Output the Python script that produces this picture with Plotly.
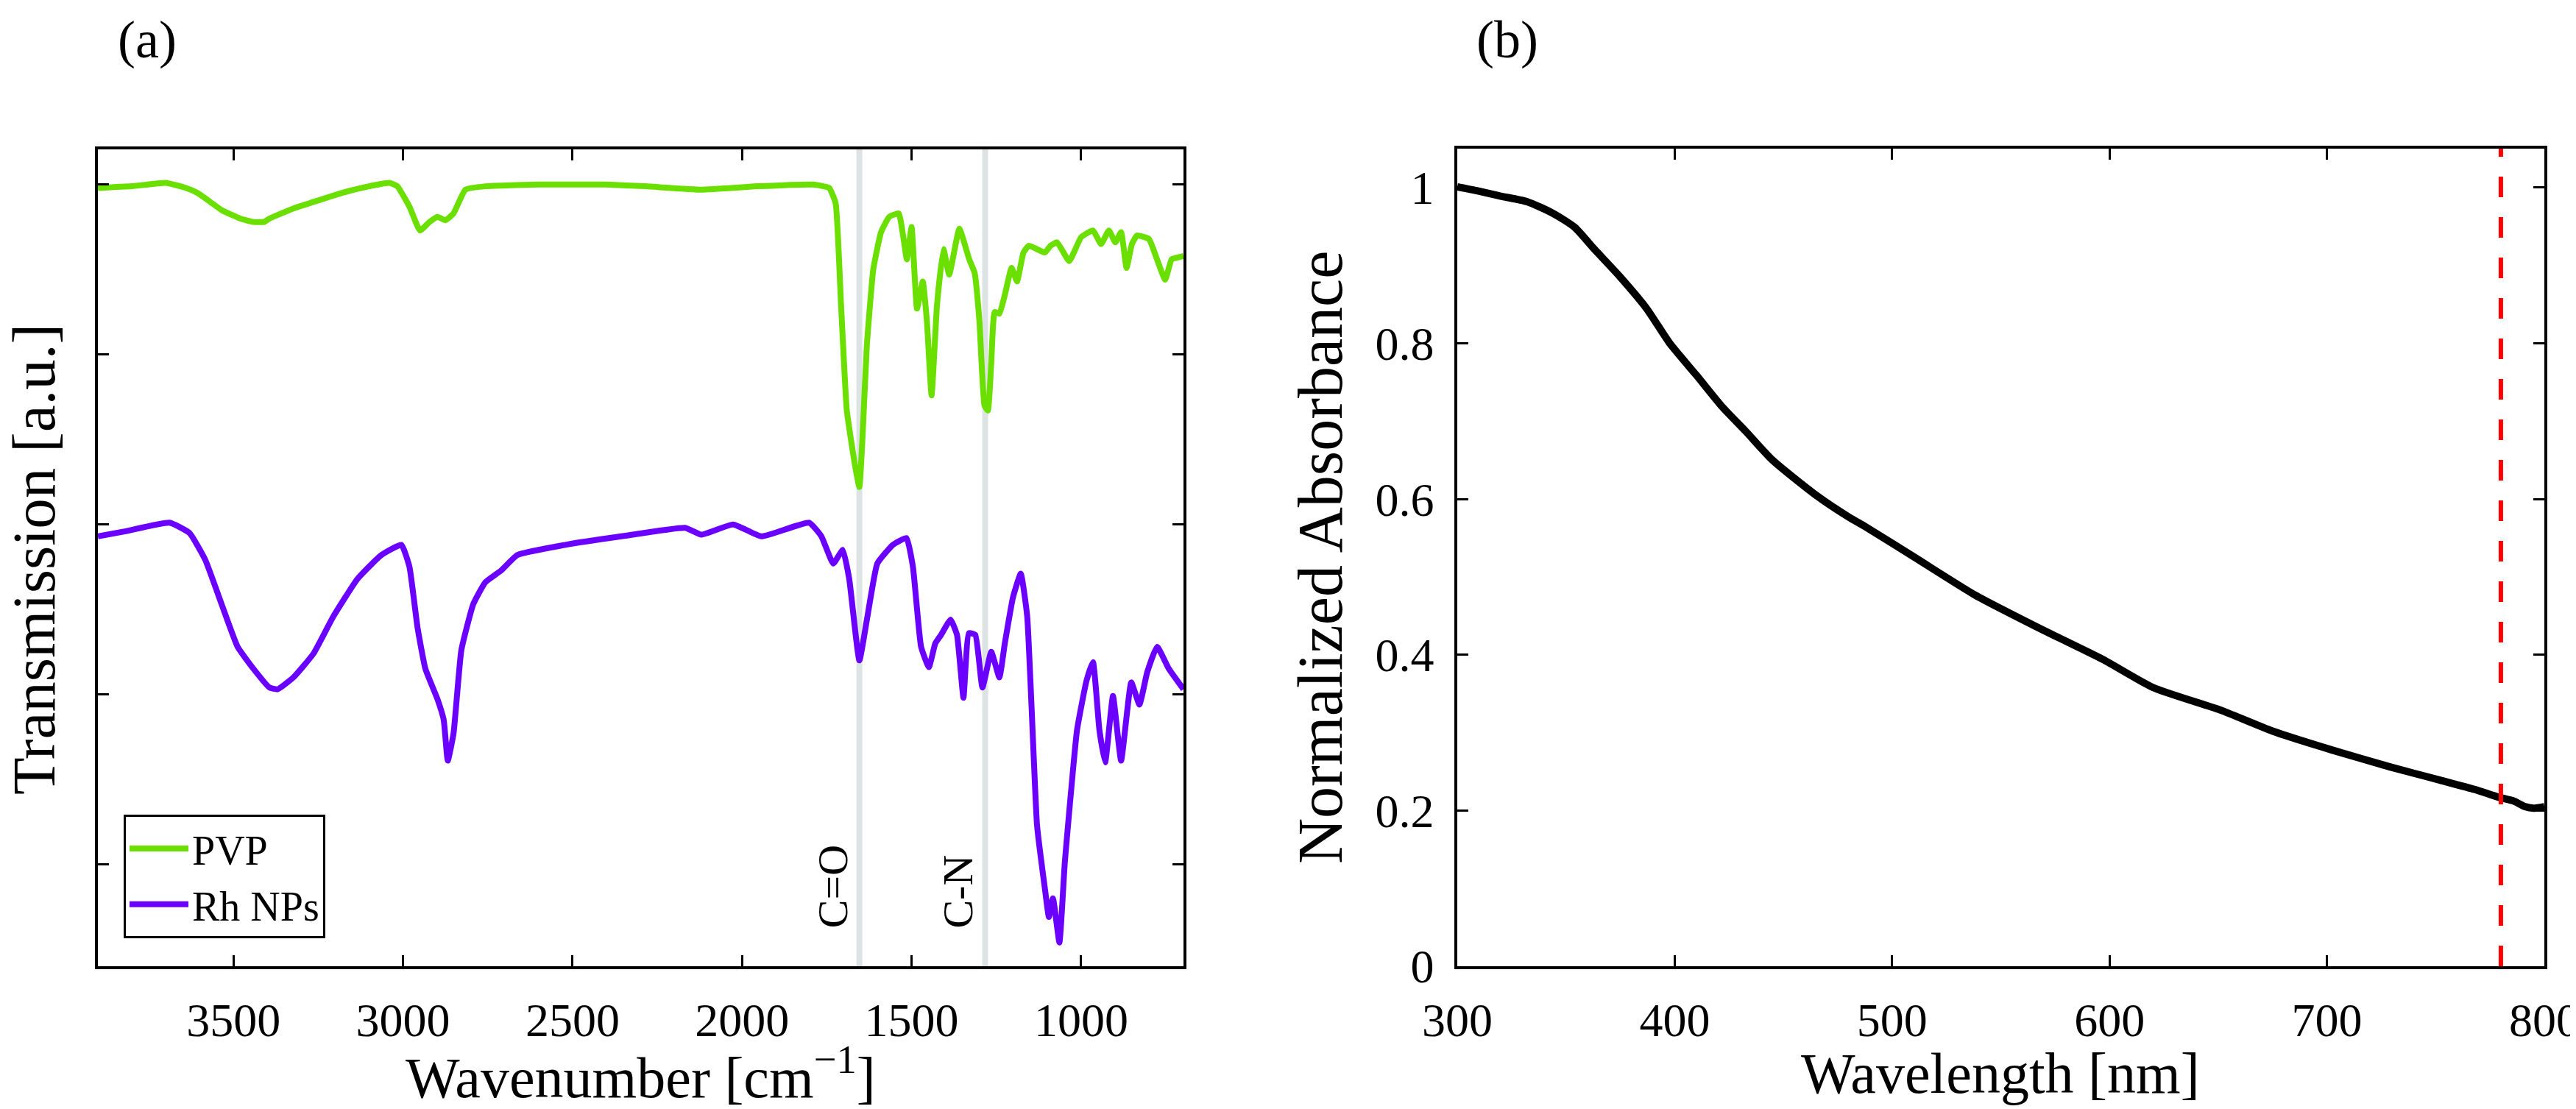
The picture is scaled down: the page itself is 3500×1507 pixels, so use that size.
import plotly.graph_objects as go

W, H = 3500, 1507
# plot-area frame (pixels) shared by both panels
ML, MR, MT, MB = 125, 51, 194, 202
PW, PH = W - ML - MR, H - MT - MB

# ---------------- Panel (a): FTIR ----------------
pvp_wn = [3900, 3800, 3700, 3640, 3606, 3570, 3535, 3480, 3441, 3410, 3394, 3323, 3276, 3182, 3100,
          3040, 3017, 2981, 2950, 2922, 2898, 2875, 2851, 2816, 2757, 2600, 2521, 2400, 2285, 2120,
          1955, 1790, 1743, 1724, 1708, 1691, 1667, 1654, 1645, 1632, 1613, 1590, 1566, 1538, 1525,
          1514, 1500, 1484, 1467, 1455, 1441, 1425, 1406, 1389, 1359, 1330, 1314, 1300, 1285, 1275,
          1265, 1255, 1241, 1225, 1205, 1189, 1170, 1154, 1130, 1107, 1090, 1071, 1035, 1000, 965,
          941, 918, 899, 882, 866, 850, 835, 800, 776, 752, 733, 717, 698]
pvp_t = [3.98, 3.99, 4.01, 3.98, 3.95, 3.90, 3.85, 3.80, 3.78, 3.78, 3.80, 3.86, 3.89, 3.95, 3.99,
         4.01, 3.99, 3.87, 3.73, 3.78, 3.81, 3.79, 3.83, 3.97, 3.99, 4.00, 4.00, 4.00, 3.99, 3.97,
         3.99, 4.00, 3.98, 3.89, 3.29, 2.67, 2.35, 2.22, 2.50, 3.05, 3.50, 3.72, 3.81, 3.83, 3.70,
         3.56, 3.75, 3.27, 3.43, 3.20, 2.76, 3.29, 3.62, 3.47, 3.74, 3.56, 3.48, 3.20, 2.70, 2.67,
         2.95, 3.25, 3.24, 3.35, 3.51, 3.43, 3.60, 3.64, 3.62, 3.60, 3.64, 3.66, 3.55, 3.69, 3.73,
         3.65, 3.73, 3.66, 3.72, 3.51, 3.65, 3.70, 3.68, 3.56, 3.44, 3.56, 3.57, 3.58]

rh_wn = [3900, 3818, 3689, 3630, 3583, 3535, 3488, 3441, 3394, 3370, 3323, 3264, 3205, 3134, 3064,
         3005, 2981, 2957, 2934, 2898, 2880, 2868, 2851, 2828, 2793, 2757, 2710, 2663, 2521, 2356,
         2168, 2120, 2026, 1943, 1802, 1766, 1731, 1703, 1684, 1654, 1630, 1601, 1555, 1515, 1496,
         1472, 1449, 1430, 1413, 1385, 1366, 1347, 1331, 1312, 1291, 1265, 1241, 1225, 1201, 1178,
         1159, 1130, 1107, 1095, 1083, 1064, 1048, 1012, 984, 965, 946, 929, 906, 882, 852,
         828, 805, 776, 741, 698]
rh_t = [1.93, 1.96, 2.01, 1.95, 1.79, 1.53, 1.28, 1.15, 1.04, 1.03, 1.10, 1.24, 1.46, 1.68, 1.82,
        1.88, 1.75, 1.39, 1.15, 0.97, 0.85, 0.61, 0.77, 1.26, 1.53, 1.66, 1.73, 1.82, 1.88, 1.93,
        1.98, 1.94, 2.00, 1.93, 2.01, 1.93, 1.77, 1.85, 1.68, 1.20, 1.46, 1.77, 1.88, 1.92, 1.75,
        1.28, 1.16, 1.30, 1.35, 1.44, 1.35, 0.98, 1.36, 1.35, 1.04, 1.25, 1.10, 1.30, 1.57, 1.71,
        1.46, 0.23, -0.14, -0.31, -0.20, -0.46, 0.01, 0.79, 1.08, 1.19, 0.79, 0.60, 0.99, 0.61, 1.07,
        0.94, 1.13, 1.28, 1.15, 1.03]

band_wn = [1654, 1283]
band_labels = ["C=O", "C-N"]
band_label_y = -0.386

ftir_xticks = [3500, 3000, 2500, 2000, 1500, 1000]
ftir_yticks = [0, 1, 2, 3, 4]

# ---------------- Panel (b): UV-Vis ----------------
wl_nm = [300, 309, 320, 332, 344, 354, 363, 375, 387, 398, 410, 422, 433, 445, 465, 480, 488, 511,
         538, 570, 597, 620, 651, 675, 702, 729, 752, 768, 779, 786, 791, 795, 800]
abs_norm = [1.001, 0.996, 0.989, 0.982, 0.967, 0.949, 0.921, 0.885, 0.845, 0.799, 0.759, 0.718,
            0.686, 0.650, 0.605, 0.577, 0.564, 0.524, 0.477, 0.431, 0.394, 0.358, 0.329, 0.302,
            0.278, 0.256, 0.239, 0.227, 0.217, 0.212, 0.205, 0.203, 0.205]
cutoff_nm = 780
uv_xticks = [300, 400, 500, 600, 700, 800]
uv_yticks = [0, 0.2, 0.4, 0.6, 0.8, 1]

GREEN = "#6adf00"
PURPLE = "#6a00ff"
GREY = "#dde3e3"
FONT = "Liberation Serif"


def px(x):
    return (x - ML) / PW


def py(y):
    return (H - MB - y) / PH


fig = go.Figure()
fig.add_trace(go.Scatter(x=pvp_wn, y=pvp_t, mode="lines", name="PVP",
                         line=dict(color=GREEN, width=8, shape="spline", smoothing=0.4),
                         xaxis="x", yaxis="y"))
fig.add_trace(go.Scatter(x=rh_wn, y=rh_t, mode="lines", name="Rh NPs",
                         line=dict(color=PURPLE, width=8, shape="spline", smoothing=0.4),
                         xaxis="x", yaxis="y"))
fig.add_trace(go.Scatter(x=wl_nm, y=abs_norm, mode="lines", showlegend=False,
                         line=dict(color="black", width=10, shape="spline", smoothing=0.6),
                         xaxis="x2", yaxis="y2"))

axis_common = dict(showline=True, linecolor="black", linewidth=3.5, mirror="ticks",
                   ticks="inside", ticklen=15, tickwidth=3, tickcolor="black",
                   showgrid=False, zeroline=False, automargin=False,
                   ticklabeloverflow="allow",
                   tickfont=dict(family=FONT, size=64, color="black"))

shapes = []
for wn in band_wn:
    shapes.append(dict(type="line", xref="x", yref="y domain", x0=wn, x1=wn, y0=0, y1=1,
                       line=dict(color=GREY, width=8), layer="below"))
shapes.append(dict(type="line", xref="x2", yref="y2 domain", x0=cutoff_nm, x1=cutoff_nm,
                   y0=0, y1=1, line=dict(color="#ff0000", width=6, dash="28px,27px"),
                   layer="above"))

annotations = []
for wn, lab in zip(band_wn, band_labels):
    annotations.append(dict(x=wn, y=band_label_y, xref="x", yref="y", text=lab,
                            textangle=-90, showarrow=False, xanchor="right", yanchor="bottom",
                            xshift=-2, font=dict(family=FONT, size=58, color="black")))

# panel labels and axis titles (pixel positions converted to paper fractions)
text_items = [
    ("(a)", 192, 46, 0, 72),
    ("(b)", 2040, 46, 0, 72),
    ("Wavenumber [cm<sup>−1</sup>]", 862, 1450, 0, 78),
    ("Wavelength [nm]", 2710, 1450, 0, 78),
    ("Transmission [a.u.]", 38, 752, -90, 83),
    ("Normalized Absorbance", 1786, 750, -90, 86),
]
for txt, x, y, ang, size in text_items:
    annotations.append(dict(x=px(x), y=py(y), xref="paper", yref="paper", text=txt,
                            textangle=ang, xanchor="center", yanchor="middle",
                            showarrow=False, font=dict(family=FONT, size=size, color="black")))

fig.update_layout(
    width=W, height=H,
    margin=dict(l=ML, r=MR, t=MT, b=MB, autoexpand=False),
    paper_bgcolor="white", plot_bgcolor="white",
    font=dict(family=FONT, color="black"),
    showlegend=True,
    legend=dict(x=px(160), y=py(1267), xanchor="left", yanchor="bottom",
                bordercolor="black", borderwidth=3, bgcolor="white",
                font=dict(family=FONT, size=56, color="black"),
                itemwidth=80, tracegroupgap=0),
    xaxis=dict(domain=[0, px(1600)], anchor="y", range=[3900, 698],
               tickvals=ftir_xticks, ticklabelstandoff=14, **axis_common),
    yaxis=dict(domain=[0, py(195)], anchor="x", range=[-0.6, 4.207],
               tickvals=ftir_yticks, showticklabels=False, **axis_common),
    xaxis2=dict(domain=[px(1972), 1], anchor="y2", range=[300, 800],
                tickvals=uv_xticks, ticklabelstandoff=14, **axis_common),
    yaxis2=dict(domain=[0, 1], anchor="x2", range=[0, 1.05],
                tickvals=uv_yticks, ticklabelstandoff=15, **axis_common),
    shapes=shapes,
    annotations=annotations,
)

fig.write_html("out.html")
